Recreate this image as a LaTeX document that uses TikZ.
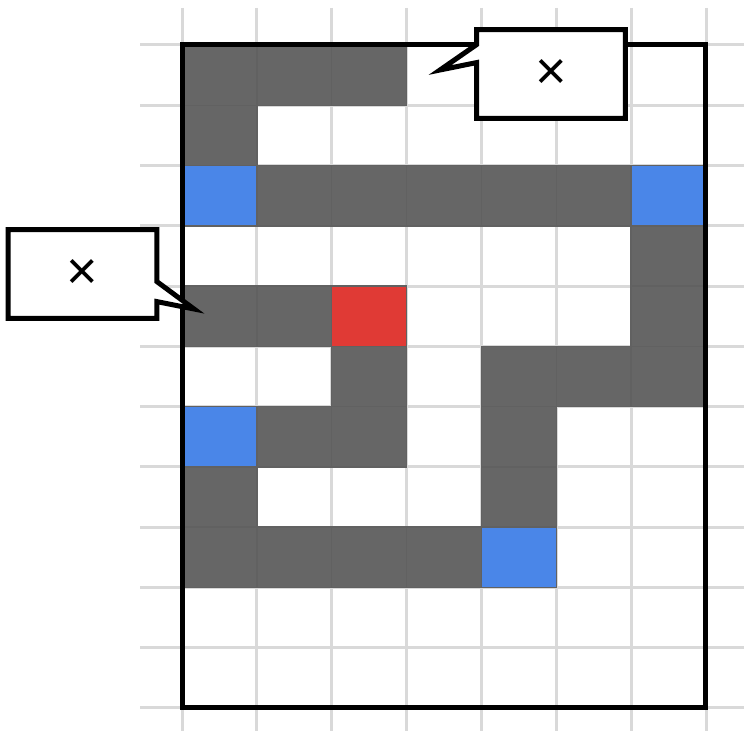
\documentclass[tikz,border=0pt]{standalone}
\usepackage{fontspec}
\setmainfont{Liberation Sans}
\usetikzlibrary{calc}
\definecolor{gridgray}{HTML}{D9D9D9}
\definecolor{wall}{HTML}{666666}
\definecolor{goal}{HTML}{4A86E8}
\definecolor{start}{HTML}{E03A35}
% one cell of the maze: colour, column, row
\newcommand\mazecell[3]{\filldraw[cell, fill=#1] ({182+74.86*#2},{45+60.27*#3}) rectangle ++(74.86,60.27);}

\begin{document}
\begin{tikzpicture}[x=0.5pt, y=-0.5pt]
  \tikzstyle{gridline}=[draw=gridgray, line width=1.5pt]
  \tikzstyle{cell}=[draw=black!62, line width=0.7pt]
  \tikzstyle{bubble}=[minimum width=74pt, minimum height=44pt, inner sep=0pt, font=\fontsize{27}{29}\selectfont]
  \tikzstyle{bubbleline}=[draw=black, fill=white, line width=2.5pt, line join=miter]
  \useasboundingbox (0,0) rectangle (744,731);
  % grid
  \foreach \i in {0,...,7}
    \draw[gridline] ({182+74.86*\i},8) -- ({182+74.86*\i},731);
  \foreach \j in {0,...,11}
    \draw[gridline] (140,{45+60.27*\j}) -- (744,{45+60.27*\j});
  % maze
  \foreach \c/\r in {0/0,1/0,2/0,0/1,1/2,2/2,3/2,4/2,5/2,6/3,0/4,1/4,6/4,2/5,4/5,5/5,6/5,1/6,2/6,4/6,0/7,4/7,0/8,1/8,2/8,3/8}
    \mazecell{wall}{\c}{\r}
  \foreach \c/\r in {0/2,6/2,0/6,4/8}
    \mazecell{goal}{\c}{\r}
  \mazecell{start}{2}{4}
  \draw[line width=2.5pt] (182,45) rectangle (705,707);
  % callouts
  \node[bubble] (topnote) at (551,74) {};
  \coordinate (toptip) at (440,70);
  \draw[bubbleline] (topnote.north west) -- (topnote.north east) -- (topnote.south east)
    -- (topnote.south west) -- ($(topnote.north west)+(0,33)$) -- (toptip)
    -- ($(topnote.north west)+(0,15)$) -- cycle;
  \node[bubble] (topmark) at (topnote.center) {×};
  \node[bubble] (leftnote) at (82.5,274) {};
  \coordinate (lefttip) at (194,309);
  \draw[bubbleline] (leftnote.north west) -- (leftnote.north east) -- ($(leftnote.north east)+(0,52)$)
    -- (lefttip) -- ($(leftnote.north east)+(0,72)$) -- (leftnote.south east)
    -- (leftnote.south west) -- cycle;
  \node[bubble] (leftmark) at (leftnote.center) {×};
\end{tikzpicture}
\end{document}
